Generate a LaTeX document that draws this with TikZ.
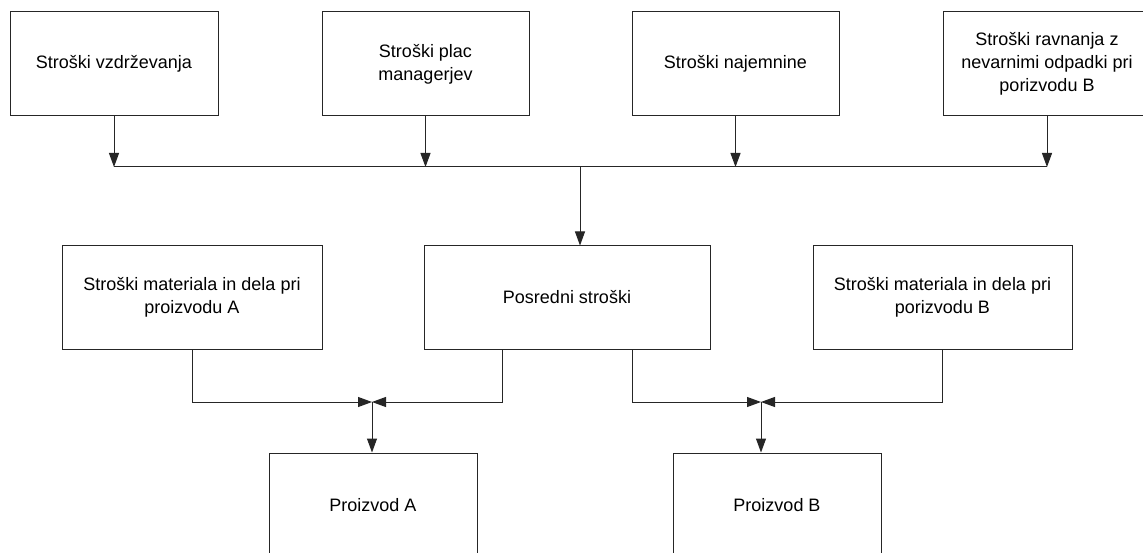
\documentclass[tikz,border=0pt]{standalone}
\usepackage{fontspec}
\setmainfont{Liberation Sans}
\usetikzlibrary{arrows.meta}
\begin{document}
\begin{tikzpicture}[x=1pt,y=-1pt,
  box/.style={draw=black!85, line width=1pt, fill=white, align=center, inner sep=0pt,
    minimum height=104pt, font=\fontsize{18}{23.3}\selectfont},
  conn/.style={draw=black!85, line width=1pt},
  arr/.style={conn, -{Triangle[length=14pt,width=10pt]}}]
\useasboundingbox (0,0) rectangle (1143,553);
\clip (0,0) rectangle (1143,553);
\fill[white] (0,0) rectangle (1143,553);
% top row
\node[box, minimum width=208pt] (b1) at (114,64) {Stroški vzdrževanja};
\node[box, minimum width=207pt] (b2) at (425.5,64) {Stroški plac\\managerjev};
\node[box, minimum width=207pt] (b3) at (735.5,64) {Stroški najemnine};
\node[box, minimum width=208pt] (b4) at (1047,64) {Stroški ravnanja z\\nevarnimi odpadki pri\\porizvodu B};
% middle row
\node[box, minimum width=260pt, minimum height=103pt] (ma) at (192,297.5) {Stroški materiala in dela pri\\proizvodu A};
\node[box, minimum width=286pt, minimum height=103pt] (pos) at (567,297.5) {Posredni stroški};
\node[box, minimum width=259pt, minimum height=103pt] (mb) at (942.5,297.5) {Stroški materiala in dela pri\\porizvodu B};
% bottom row
\node[box, minimum width=208pt] (pA) at (373,505) {Proizvod A};
\node[box, minimum width=208pt] (pB) at (777,505) {Proizvod B};
% coordinates
\coordinate (bus) at (580,167);
\coordinate (jA) at (372,402);
\coordinate (jB) at (761,402);
% top connectors
\draw[arr] (b1.south) -- (b1.south |- bus);
\draw[arr] (b2.south) -- (b2.south |- bus);
\draw[arr] (b3.south) -- (b3.south |- bus);
\draw[arr] (b4.south) -- (b4.south |- bus);
\draw[conn] (b1.south |- bus) -- (b4.south |- bus);
\draw[arr] (bus) -- (bus |- pos.north);
% bottom connectors
\draw[arr] (ma.south) |- (jA);
\draw[arr] ([xshift=-65pt]pos.south) |- (jA);
\draw[arr] (jA) -- (jA |- pA.north);
\draw[arr] ([xshift=65pt]pos.south) |- (jB);
\draw[arr] (mb.south) |- (jB);
\draw[arr] (jB) -- (jB |- pB.north);
\end{tikzpicture}
\end{document}
